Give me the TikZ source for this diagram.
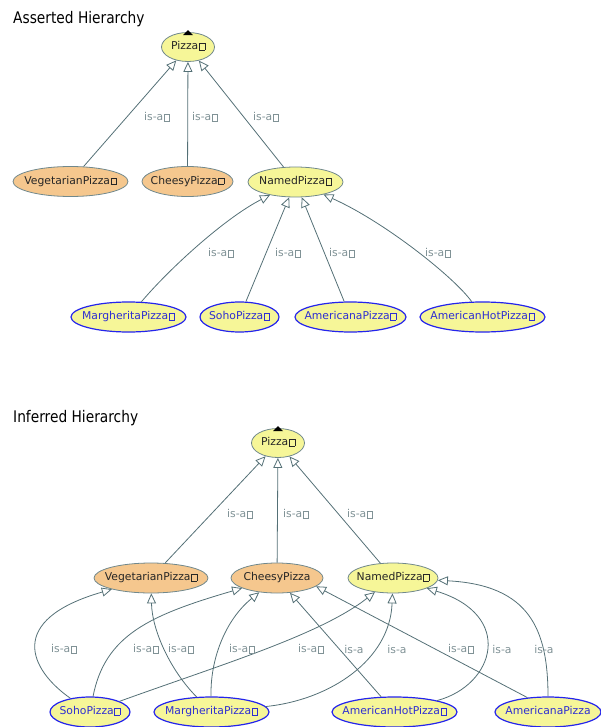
\documentclass[tikz,border=0pt]{standalone}
\usepackage{fontspec}
\setmainfont{DejaVu Sans}
\newfontfamily\titlefont[FakeStretch=0.86]{DejaVu Sans}
\usetikzlibrary{shapes.geometric, arrows.meta}

% small empty box printed after most names
\newcommand{\qbox}{\hspace{0.6pt}{\fboxsep=0pt\fboxrule=0.4pt\fbox{\rule{0pt}{6.2pt}\hspace{5.2pt}}}}
\newcommand{\cname}[1]{\makebox[0pt]{#1}}

\begin{document}
\begin{tikzpicture}[x=1pt, y=-1pt,
    cls/.style={ellipse, inner sep=0pt, minimum height=30pt, text height=8pt, text depth=2.5pt,
                font=\fontsize{10.8}{13}\selectfont},
    orangebox/.style={cls, draw=bordc, line width=0.8pt, fill=orangec, text=black!85},
    yellowbox/.style={cls, draw=bordc, line width=0.8pt, fill=yellowc, text=black!85},
    bluebox/.style={cls, draw=bluec, line width=1.2pt, fill=yellowc, text=bluetxt},
    isa/.style={draw=edgec, line width=0.8pt, -{Triangle[open, length=10pt, width=9pt]}},
    lbl/.style={text=lblc, inner sep=0pt, font=\fontsize{10.8}{13}\selectfont},
    ttl/.style={anchor=base west, inner sep=0pt, font=\titlefont\fontsize{16}{18}\selectfont}]
    \definecolor{edgec}{RGB}{84,112,118}
    \definecolor{lblc}{RGB}{128,146,150}
    \definecolor{bordc}{RGB}{112,136,140}
    \definecolor{orangec}{RGB}{245,199,142} % Orange
    \definecolor{yellowc}{RGB}{246,246,152} % Yellow
    \definecolor{bluec}{RGB}{36,36,236}     % Blue
    \definecolor{bluetxt}{RGB}{46,46,210}

    \useasboundingbox (0,0) rectangle (601,727);

    % Asserted hierarchy
    \node[ttl] (ttlA) at (13,24) {Asserted Hierarchy};

    \node[yellowbox, minimum width=53pt, minimum height=29pt] (pizzaA) at (188,47) {\cname{Pizza\qbox}};
    \node[orangebox, minimum width=115pt] (vegA) at (70.5,181.5) {\cname{VegetarianPizza\qbox}};
    \node[orangebox, minimum width=91pt] (cheesyA) at (187.5,181.5) {\cname{CheesyPizza\qbox}};
    \node[yellowbox, minimum width=95pt] (namedA) at (295.5,182) {\cname{NamedPizza\qbox}};
    \node[bluebox, minimum width=115pt] (margA) at (128.5,317) {\cname{MargheritaPizza\qbox}};
    \node[bluebox, minimum width=79pt] (sohoA) at (239.5,317) {\cname{SohoPizza\qbox}};
    \node[bluebox, minimum width=111pt] (amerA) at (350.5,317) {\cname{AmericanaPizza\qbox}};
    \node[bluebox, minimum width=125pt] (hotA) at (482.5,317) {\cname{AmericanHotPizza\qbox}};

    \fill (pizzaA.north) ++(-5,3) -- ++(10,0) -- ++(-5,-5) -- cycle;

    \draw[isa] (vegA) -- (pizzaA) node[lbl] (la1) at (157,117) {is-a\qbox};
    \draw[isa] (cheesyA) -- (pizzaA) node[lbl] (la2) at (205,117) {is-a\qbox};
    \draw[isa] (namedA) -- (pizzaA) node[lbl] (la3) at (266,117) {is-a\qbox};

    \draw[isa] (margA) .. controls (170,268) and (225,218) .. (namedA) node[lbl] (la4) at (221,253) {is-a\qbox};
    \draw[isa] (sohoA) -- (namedA) node[lbl] (la5) at (288,253) {is-a\qbox};
    \draw[isa] (amerA) -- (namedA) node[lbl] (la6) at (342,253) {is-a\qbox};
    \draw[isa] (hotA) .. controls (455,278) and (385,222) .. (namedA) node[lbl] (la7) at (438,253) {is-a\qbox};

    % Inferred hierarchy
    \node[ttl] (ttlI) at (13,422) {Inferred Hierarchy};

    \node[yellowbox, minimum width=53pt, minimum height=29pt] (pizzaI) at (278,443) {\cname{Pizza\qbox}};
    \node[orangebox, minimum width=114pt] (vegI) at (151,578) {\cname{VegetarianPizza\qbox}};
    \node[orangebox, minimum width=92pt] (cheesyI) at (277,578) {\cname{CheesyPizza}};
    \node[yellowbox, minimum width=90pt] (namedI) at (393,578) {\cname{NamedPizza\qbox}};
    \node[bluebox, minimum width=80pt] (sohoI) at (90,712) {\cname{SohoPizza\qbox}};
    \node[bluebox, minimum width=115pt] (margI) at (211.5,712) {\cname{MargheritaPizza\qbox}};
    \node[bluebox, minimum width=125pt] (hotI) at (394.5,712) {\cname{AmericanHotPizza\qbox}};
    \node[bluebox, minimum width=106pt] (amerI) at (548,712) {\cname{AmericanaPizza}};

    \fill (pizzaI.north) ++(-5,3) -- ++(10,0) -- ++(-5,-5) -- cycle;

    \draw[isa] (vegI) -- (pizzaI) node[lbl] (lb1) at (240,514) {is-a\qbox};
    \draw[isa] (cheesyI) -- (pizzaI) node[lbl] (lb2) at (296,514) {is-a\qbox};
    \draw[isa] (namedI) -- (pizzaI) node[lbl] (lb3) at (360,514) {is-a\qbox};

    \draw[isa] (sohoI) .. controls (30,670) and (5,620) .. (vegI) node[lbl] (lb4) at (64,649) {is-a\qbox};
    \draw[isa] (sohoI) .. controls (105,635) and (150,615) .. (cheesyI) node[lbl] (lb5) at (146,649) {is-a\qbox};
    \draw[isa] (sohoI) .. controls (220,665) and (320,635) .. (namedI) node[lbl] (lb6) at (311,649) {is-a\qbox};
    \draw[isa] (margI) .. controls (170,670) and (152,630) .. (vegI) node[lbl] (lb7) at (181,649) {is-a\qbox};
    \draw[isa] (margI) .. controls (210,660) and (225,620) .. (cheesyI) node[lbl] (lb8) at (242,649) {is-a\qbox};
    \draw[isa] (margI) .. controls (330,700) and (390,660) .. (namedI) node[lbl] (lb9) at (397,649) {is-a};
    \draw[isa] (hotI) -- (cheesyI) node[lbl] (lb10) at (354,649) {is-a};
    \draw[isa] (hotI) .. controls (495,685) and (515,615) .. (namedI) node[lbl] (lb11) at (502,649) {is-a};
    \draw[isa] (amerI.145) -- (cheesyI.-12) node[lbl] (lb12) at (461,649) {is-a\qbox};
    \draw[isa] (amerI) .. controls (548,630) and (530,585) .. (namedI) node[lbl] (lb13) at (544,649) {is-a};
\end{tikzpicture}
\end{document}
